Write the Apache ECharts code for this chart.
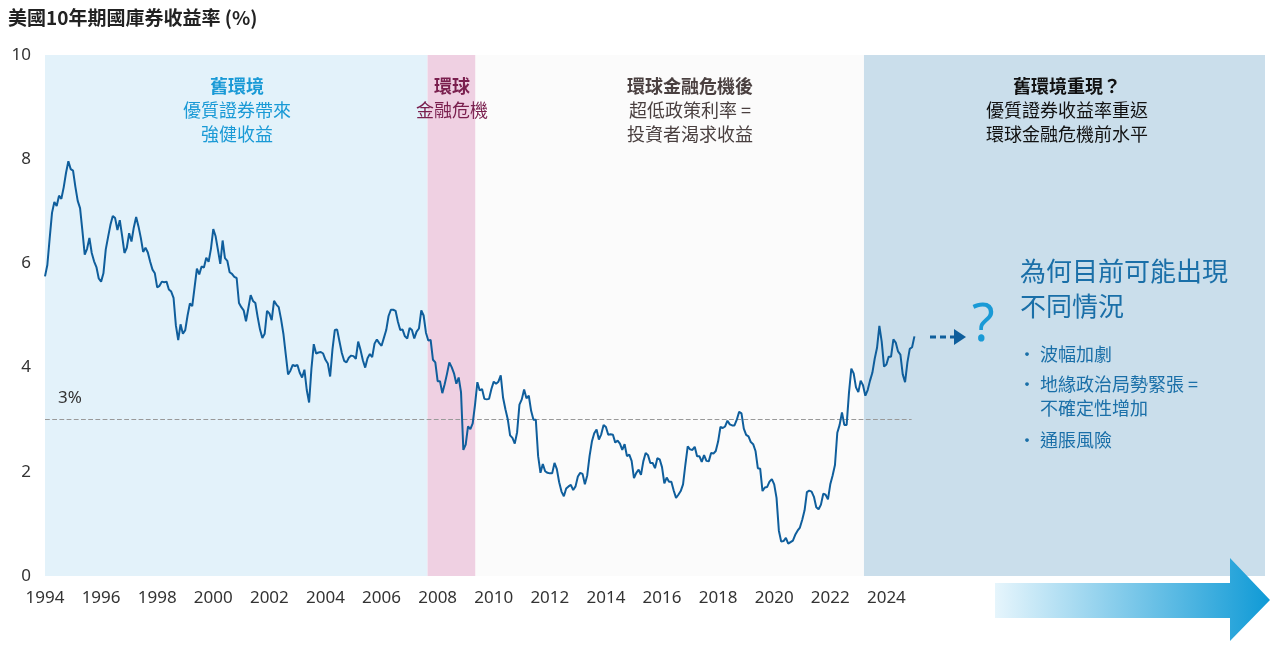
<!DOCTYPE html>
<html><head><meta charset="utf-8">
<script src="https://cdn.jsdelivr.net/npm/echarts@6/dist/echarts.min.js"></script>
<style>html,body{margin:0;padding:0;background:#fff}#c{width:1280px;height:650px}</style>
</head><body><div id="c"></div>
<script>
const startYear = 1994;
const yields = [
5.75,5.97,6.48,6.97,7.18,7.10,7.30,7.24,7.46,7.74,7.96,7.81,
7.78,7.47,7.20,7.06,6.63,6.17,6.28,6.49,6.20,6.04,5.93,5.71,
5.65,5.81,6.27,6.51,6.74,6.91,6.87,6.64,6.83,6.53,6.20,6.30,
6.58,6.42,6.69,6.89,6.71,6.49,6.22,6.30,6.21,6.03,5.88,5.81,
5.54,5.57,5.65,5.64,5.65,5.50,5.46,5.34,4.81,4.53,4.83,4.65,
4.72,5.00,5.23,5.18,5.54,5.90,5.79,5.94,5.92,6.11,6.03,6.28,
6.66,6.52,6.26,5.99,6.44,6.10,6.05,5.83,5.80,5.74,5.72,5.24,
5.16,5.10,4.89,5.14,5.39,5.28,5.24,4.97,4.73,4.57,4.65,5.09,
5.04,4.91,5.28,5.21,5.16,4.93,4.65,4.26,3.87,3.94,4.05,4.03,
4.05,3.90,3.81,3.96,3.57,3.33,3.98,4.45,4.27,4.29,4.30,4.27,
4.15,4.08,3.83,4.35,4.72,4.73,4.50,4.28,4.13,4.10,4.19,4.23,
4.22,4.17,4.50,4.34,4.14,4.00,4.18,4.26,4.20,4.46,4.54,4.47,
4.42,4.57,4.72,4.99,5.11,5.11,5.09,4.88,4.72,4.73,4.60,4.56,
4.76,4.72,4.56,4.69,4.75,5.10,5.00,4.67,4.52,4.53,4.15,4.10,
3.74,3.74,3.51,3.68,3.88,4.10,4.01,3.89,3.69,3.81,3.53,2.42,
2.52,2.87,2.82,2.93,3.29,3.72,3.56,3.59,3.40,3.39,3.40,3.59,
3.73,3.69,3.73,3.85,3.42,3.20,3.01,2.70,2.65,2.54,2.76,3.29,
3.39,3.58,3.41,3.46,3.17,3.00,3.00,2.30,1.98,2.15,2.01,1.98,
1.97,1.97,2.17,2.05,1.80,1.62,1.53,1.68,1.72,1.75,1.65,1.72,
1.91,1.98,1.96,1.76,1.93,2.30,2.58,2.74,2.81,2.62,2.72,2.90,
2.86,2.71,2.72,2.71,2.56,2.60,2.54,2.42,2.53,2.30,2.33,2.21,
1.88,1.98,2.04,1.94,2.20,2.36,2.32,2.17,2.17,2.07,2.26,2.24,
2.09,1.78,1.89,1.81,1.81,1.64,1.50,1.56,1.63,1.76,2.14,2.49,
2.43,2.42,2.48,2.30,2.30,2.19,2.32,2.21,2.20,2.36,2.35,2.40,
2.58,2.86,2.84,2.87,2.98,2.91,2.89,2.89,3.00,3.15,3.12,2.83,
2.71,2.68,2.57,2.53,2.40,2.07,2.06,1.63,1.70,1.71,1.81,1.86,
1.76,1.50,0.87,0.66,0.67,0.73,0.62,0.65,0.68,0.79,0.87,0.93,
1.08,1.26,1.61,1.64,1.62,1.52,1.32,1.28,1.37,1.58,1.56,1.47,
1.76,1.93,2.13,2.75,2.90,3.14,2.90,2.90,3.52,3.98,3.89,3.62,
3.53,3.75,3.66,3.46,3.57,3.75,3.90,4.17,4.38,4.80,4.50,4.02,
4.06,4.21,4.21,4.54,4.48,4.31,4.25,3.87,3.72,4.10,4.36,4.39,
4.60
];
const regions = [
  {from:1994, to:2007.64, color:'#e3f2fa'},
  {from:2007.64, to:2009.35, color:'#efd0e2'},
  {from:2009.35, to:2023.2, color:'#fbfbfb'},
  {from:2023.2, to:2037.5, color:'#cadeeb'}
];
const refLevel = 3;
const lineData = yields.map((v,i)=>[startYear + i/12, v]);

const chart = echarts.init(document.getElementById('c'));
const t = (x,y,text,o)=>({type:'text',z:100,left:x,top:y,style:Object.assign({text:text,fontFamily:'Noto Sans CJK TC',fontSize:18,fill:'#333'},o||{})});
const ct = (x,y,text,o)=>({type:'text',z:100,x:x,y:y,style:Object.assign({text:text,fontFamily:'Noto Sans CJK TC',fontSize:18,fill:'#333',align:'center',verticalAlign:'middle'},o||{})});
chart.setOption({
  animation:false,
  grid:{left:45,right:15,top:55,bottom:74,containLabel:false},
  xAxis:{type:'value',min:1994,max:2037.5,interval:2,
    axisLine:{show:false},axisTick:{show:false},splitLine:{show:false},
    axisLabel:{fontSize:17,color:'#333',fontFamily:'Noto Sans',margin:14,
      formatter:v=>v<=2024?String(v):'',showMaxLabel:false}},
  yAxis:{type:'value',min:0,max:10,interval:2,
    axisLine:{show:false},axisTick:{show:false},splitLine:{show:false},
    axisLabel:{fontSize:17,color:'#333',fontFamily:'Noto Sans',margin:14}},
  series:[{type:'line',data:lineData,showSymbol:false,
    lineStyle:{color:'#0f5e9c',width:2},z:5,
    markArea:{silent:true,data:regions.map(r=>[{xAxis:r.from,itemStyle:{color:r.color}},{xAxis:r.to}])},
    markLine:{silent:true,symbol:'none',label:{show:false},
      lineStyle:{color:'#999',type:'dashed',width:1.2},
      data:[[{coord:[1994,refLevel]},{coord:[2024.9,refLevel]}]]}
  }],
  graphic:[
    t(8,8,'美國10年期國庫券收益率 (%)',{fontWeight:'bold',fontSize:19,fill:'#222'}),
    t(58,390,'3%',{fontFamily:'Noto Sans',fontSize:17}),
    ct(237,86,'舊環境',{fontWeight:'bold',fill:'#1a9ad6'}),
    ct(237,110,'優質證券帶來',{fill:'#1a9ad6'}),
    ct(237,134,'強健收益',{fill:'#1a9ad6'}),
    ct(452,86,'環球',{fontWeight:'bold',fill:'#7a1f4e'}),
    ct(452,110,'金融危機',{fill:'#7a1f4e'}),
    ct(690,86,'環球金融危機後',{fontWeight:'bold',fill:'#4a4040'}),
    ct(690,110,'超低政策利率 =',{fill:'#4a4040'}),
    ct(690,134,'投資者渴求收益',{fill:'#4a4040'}),
    ct(1067,86,'舊環境重現？',{fontWeight:'bold',fill:'#111'}),
    ct(1067,110,'優質證券收益率重返',{fill:'#111'}),
    ct(1067,134,'環球金融危機前水平',{fill:'#111'}),
    t(1020,258,'為何目前可能出現',{fontSize:26,fill:'#1a6fa8'}),
    t(1020,293,'不同情況',{fontSize:26,fill:'#1a6fa8'}),
    t(1018,345,'·',{fill:'#1a6fa8'}), t(1040,345,'波幅加劇',{fill:'#1a6fa8'}),
    t(1018,375,'·',{fill:'#1a6fa8'}), t(1040,375,'地緣政治局勢緊張 =',{fill:'#1a6fa8'}),
    t(1040,399,'不確定性增加',{fill:'#1a6fa8'}),
    t(1018,431,'·',{fill:'#1a6fa8'}), t(1040,431,'通脹風險',{fill:'#1a6fa8'}),
    {type:'line',z:100,shape:{x1:930,y1:337,x2:955,y2:337},style:{stroke:'#0f5e9c',lineWidth:3,lineDash:[6,4]}},
    {type:'polygon',z:100,shape:{points:[[954,329],[966,337],[954,345]]},style:{fill:'#0f5e9c'}},
    t(972,300,'?',{fontSize:52,fill:'#1a9ad6',fontFamily:'Noto Sans'}),
    {type:'polygon',z:100,shape:{points:[[995,583],[1230,583],[1230,558],[1270,600],[1230,641],[1230,618],[995,618]]},
      style:{fill:new echarts.graphic.LinearGradient(0,0,1,0,[{offset:0,color:'#e6f5fc'},{offset:1,color:'#0f9ad6'}])}}
  ]
});
</script></body></html>
